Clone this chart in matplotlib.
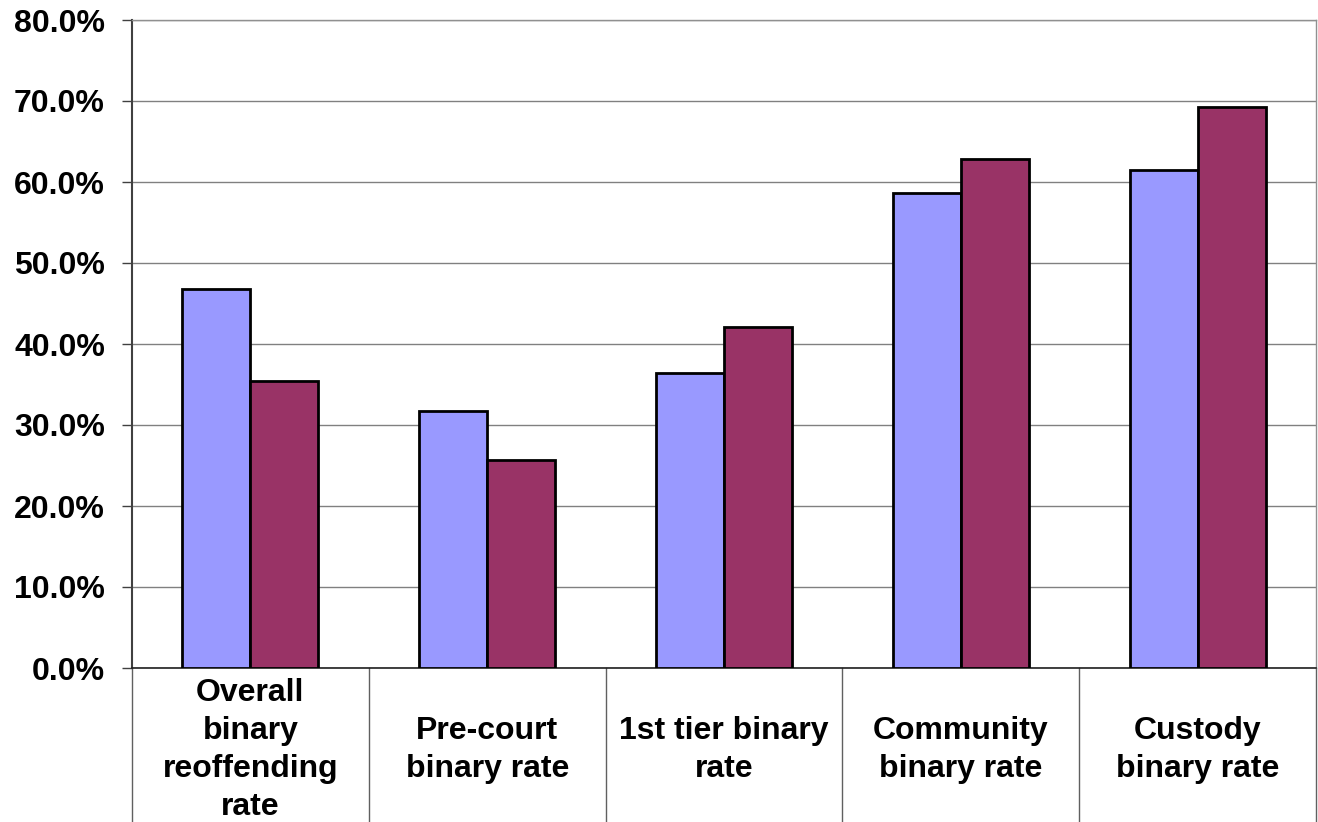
import matplotlib
matplotlib.use("Agg")
import matplotlib.pyplot as plt
from matplotlib.ticker import FuncFormatter, MultipleLocator

categories = ["Overall\nbinary\nreoffending\nrate", "Pre-court\nbinary rate",
              "1st tier binary\nrate", "Community\nbinary rate", "Custody\nbinary rate"]
series_a = [0.468, 0.317, 0.364, 0.586, 0.615]
series_b = [0.354, 0.257, 0.421, 0.628, 0.693]

plt.rcParams['font.family'] = ['Liberation Sans', 'DejaVu Sans']
plt.rcParams['font.weight'] = 'bold'

W, H = 1318, 822
fig = plt.figure(figsize=(W / 100, H / 100), dpi=100)
left, right, top, bottom = 132, 1316, 20, 668
ax = fig.add_axes([left / W, (H - bottom) / H, (right - left) / W, (bottom - top) / H])

n = len(categories)
bw = 0.287
xs = [i + 0.5 for i in range(n)]
ax.bar([x - bw / 2 for x in xs], series_a, width=bw, color='#9999FF',
       edgecolor='black', linewidth=2, zorder=3)
ax.bar([x + bw / 2 for x in xs], series_b, width=bw, color='#993366',
       edgecolor='black', linewidth=2, zorder=3)

ax.set_xlim(0, n)
ax.set_ylim(0, 0.8)
ax.yaxis.set_major_locator(MultipleLocator(0.1))
ax.yaxis.set_major_formatter(FuncFormatter(lambda v, p: f"{v * 100:.1f}%"))
ax.tick_params(axis='y', labelsize=23, length=7, width=1, color='#404040', pad=12.5)
ax.set_xticks([])
ax.grid(axis='y', color='#808080', linewidth=1, zorder=0)
ax.set_axisbelow(True)

for s in ['top', 'right']:
    ax.spines[s].set_color('#909090')
    ax.spines[s].set_linewidth(1)
ax.spines['left'].set_color('#404040')
ax.spines['left'].set_linewidth(1.5)
ax.spines['bottom'].set_color('#202020')
ax.spines['bottom'].set_linewidth(1.2)

ybot = -(H - bottom) / (bottom - top)
trans = ax.get_xaxis_transform()
for i in range(n + 1):
    ax.plot([i, i], [0, ybot], transform=trans, color='#606060', linewidth=1, clip_on=False)

ylab = -(750 - bottom) / (bottom - top)
for x, lab in zip(xs, categories):
    ax.text(x, ylab, lab, transform=trans, ha='center', va='center', fontsize=23,
            fontweight='bold', linespacing=1.36)

fig.savefig("out.png", dpi=100)
